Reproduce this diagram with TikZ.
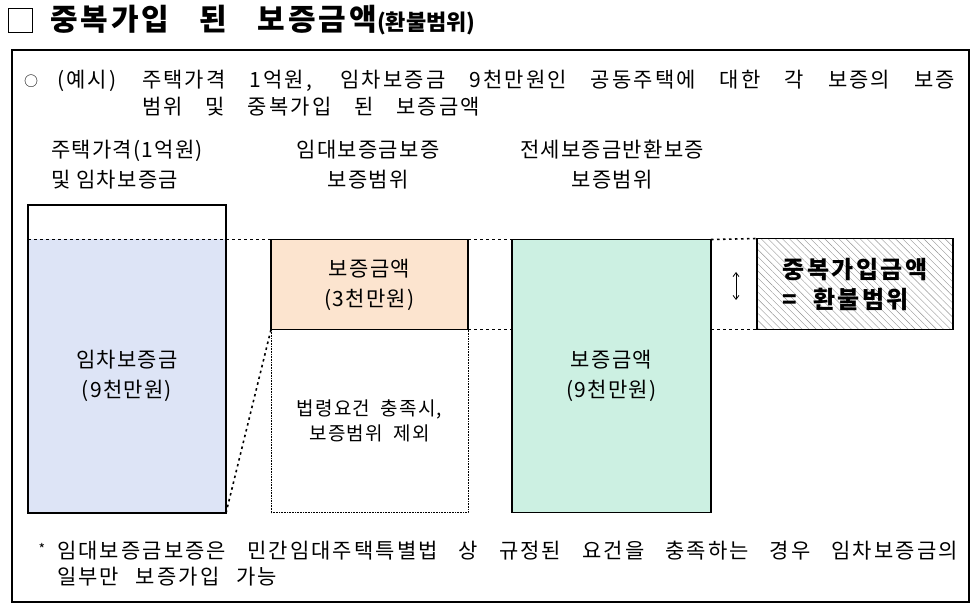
\documentclass[tikz,border=0pt]{standalone}
\usepackage{fontspec}
\setmainfont{Noto Sans CJK KR}
\newfontfamily\widefont{Noto Sans CJK KR}[LetterSpace=10]
\newfontfamily\boxface{Noto Sans CJK KR}[LetterSpace=6]
\usetikzlibrary{positioning,patterns.meta,arrows.meta}

\definecolor{depblue}{RGB}{221,228,246}
\definecolor{guarorange}{RGB}{252,228,207}
\definecolor{jeonsegreen}{RGB}{204,240,226}

\newcommand{\bodyfont}{\widefont\fontsize{21}{30}\selectfont}
\newcommand{\boxfont}{\boxface\fontsize{21}{30}\selectfont}

\tikzset{
  box/.style={draw, line width=1.5pt, inner sep=0pt, outer sep=0pt, align=center, font=\boxfont},
  dotline/.style={line width=1.6pt, dash pattern=on 2.5pt off 3.5pt},
  txt/.style={inner sep=0pt, outer sep=0pt, font=\bodyfont}
}

\begin{document}
\begin{tikzpicture}[x=1pt, y=-1pt, >={Straight Barb[length=4pt,width=6pt]}]
	\useasboundingbox (0,0) rectangle (977,609);
	
	% Tieu de
	\node[draw, line width=1pt, minimum size=24pt, inner sep=0pt] (tick) at (20,20.5) {};
	\node[txt, anchor=base west] (title) at (50,31)
	{\makebox[327pt][s]{\fontsize{30}{32}\selectfont\bfseries 중복가입 된 보증금액}};
	\node[txt, anchor=base west, font=\fontsize{22}{24}\selectfont\bfseries] (subtitle) at (title.base east) {(환불범위)};
	
	% Khung ngoai
	\draw[line width=1.2pt] (12,50) rectangle (969,602);
	
	% Dong gioi thieu
	\node[txt, font=\fontsize{14}{16}\selectfont] (bullet) at (31,81) {○};
	\node[txt, anchor=west] (example) at (57,81) {(예시)};
	\node[txt, anchor=west] (intro1) at (142,81)
	{\makebox[813pt][s]{주택가격 1억원, 임차보증금 9천만원인 공동주택에 대한 각 보증의 보증}};
	\node[txt, anchor=west] (intro2) at (142,107)
	{\makebox[338pt][s]{범위 및 중복가입 된 보증금액}};
	
	% Tieu de cot
	\node[txt, align=left, font=\boxfont] (headhouse) at (127,165) {주택가격(1억원)\\및 임차보증금};
	\node[txt, align=center, font=\boxfont] (headguar) at (368,165) {임대보증금보증\\보증범위};
	\node[txt, align=center, font=\boxfont] (headjeonse) at (612,165) {전세보증금반환보증\\보증범위};
	
	% Cac hop
	\node[box, draw=none, fill=depblue, minimum width=198pt, minimum height=273pt] (dep) at (127,376) {임차보증금\\(9천만원)};
	\node[box, minimum width=198pt, minimum height=308pt] (house) at (127,359) {};
	\node[box, fill=guarorange, minimum width=197pt, minimum height=90pt] (guar) at (369.5,284.5) {보증금액\\(3천만원)};
	\node[box, line width=0.6pt, densely dotted, minimum width=197pt, minimum height=183pt,
	      font=\boxface\fontsize{19}{25}\selectfont] (cond) at (369.5,421) {법령요건 \ 충족시,\\보증범위 \ 제외};
	\node[box, fill=jeonsegreen, minimum width=199pt, minimum height=273pt] (jeonse) at (611.5,376) {보증금액\\(9천만원)};
	\node[box, align=left, minimum width=196pt, minimum height=91pt,
	      pattern={Lines[angle=-45,distance=5pt,line width=0.4pt]}, pattern color=gray!85,
	      font=\widefont\fontsize{24}{30}\selectfont\bfseries] (refund) at (855,284) {중복가입금액\\= \ 환불범위};
	
	% Duong cham noi
	\draw[dotline] (dep.north west) -- (guar.north west);
	\draw[dotline] (guar.north east) -- (jeonse.north west);
	\draw[dotline] (jeonse.north east) -- (refund.north west);
	\draw[dotline] (guar.south east) -- (jeonse.west |- guar.south);
	\draw[dotline] (jeonse.east |- guar.south) -- (refund.south west);
	\draw[dotline] (house.south east) -- (guar.south west);
	
	% Mui ten hai chieu
	\coordinate (arrtop) at (736,272);
	\coordinate (arrbot) at (736,300);
	\draw[<->, line width=0.8pt] (arrtop) -- (arrbot);
	
	% Chu thich
	\node[txt, font=\fontsize{14}{16}\selectfont] (star) at (42,549) {*};
	\node[txt, anchor=west] (foot1) at (57,551)
	{\makebox[901pt][s]{임대보증금보증은 민간임대주택특별법 상 규정된 요건을 충족하는 경우 임차보증금의}};
	\node[txt, anchor=west] (foot2) at (57,577)
	{\makebox[220pt][s]{일부만 보증가입 가능}};
	
\end{tikzpicture}
\end{document}
